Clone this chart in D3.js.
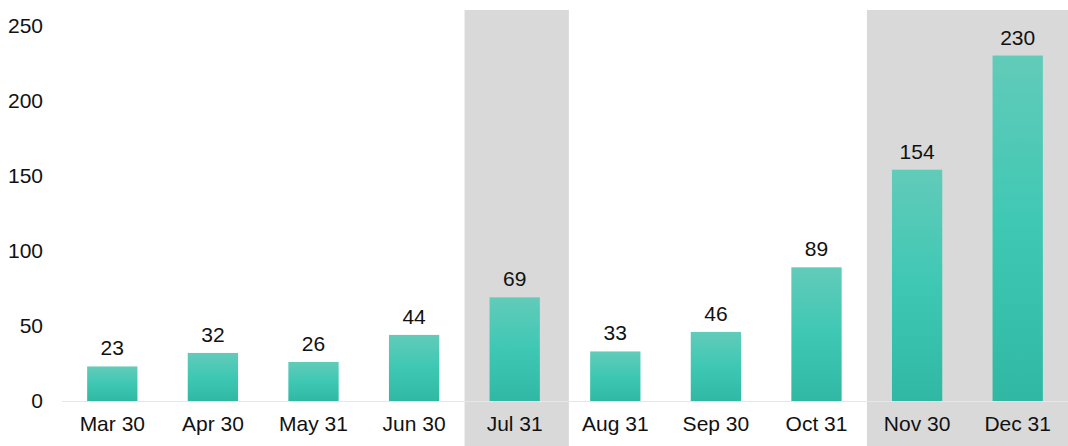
<!DOCTYPE html>
<html>
<head>
<meta charset="utf-8">
<script src="https://cdn.jsdelivr.net/npm/d3@7"></script>
<style>
  body { margin: 0; background: #fff; }
  text { font-family: "Liberation Sans", Arial, sans-serif; fill: #111; }
</style>
</head>
<body>
<div class="chart"></div>
<script>
// monthly values
var months = ['Mar 30', 'Apr 30', 'May 31', 'Jun 30', 'Jul 31', 'Aug 31', 'Sep 30', 'Oct 31', 'Nov 30', 'Dec 31']
var values = [23, 32, 26, 44, 69, 33, 46, 89, 154, 230]
var highlighted = [['Jul 31', 'Jul 31'], ['Nov 30', 'Dec 31']]
var yTicks = [0, 50, 100, 150, 200, 250]

var svgWidth = 1068
var svgHeight = 446
var fontSize = '21px'

var svg = d3.select('.chart')
    .append('svg')
    .attr('width', svgWidth)
    .attr('height', svgHeight)

var x = d3.scaleBand()
    .domain(months)
    .range([62, 1068])
    .paddingInner(0.5)
    .paddingOuter(0.25)

var y = d3.scaleLinear()
    .domain([0, 250])
    .range([401, 25.5])

var defs = svg.append('defs')
var grad = defs.append('linearGradient')
    .attr('id', 'barGrad')
    .attr('x1', 0).attr('y1', 0).attr('x2', 0).attr('y2', 1)
grad.append('stop').attr('offset', '0%').attr('stop-color', '#62cbb9')
grad.append('stop').attr('offset', '50%').attr('stop-color', '#3ec8b4')
grad.append('stop').attr('offset', '100%').attr('stop-color', '#30b8a4')

// shaded bands
svg.selectAll('.shade')
    .data(highlighted)
    .enter().append('rect')
    .attr('class', 'shade')
    .attr('x', d => x(d[0]) - 25)
    .attr('y', 10)
    .attr('width', d => Math.min(svgWidth, x(d[1]) + x.bandwidth() + 29) - (x(d[0]) - 25))
    .attr('height', svgHeight - 10)
    .attr('fill', '#d9d9d9')

// baseline
svg.append('line')
    .attr('x1', 62).attr('x2', svgWidth)
    .attr('y1', y(0) + 0.5).attr('y2', y(0) + 0.5)
    .attr('stroke', '#e6e6e6')
    .attr('stroke-width', 1)

// y axis labels
svg.append('g')
    .attr('transform', 'translate(43, 0)')
    .call(d3.axisLeft(y).tickValues(yTicks).tickSize(0).tickPadding(0))
    .call(g => g.select('.domain').remove())
    .selectAll('text')
    .attr('font-size', fontSize)
    .attr('font-family', '"Liberation Sans", Arial, sans-serif')
    .attr('fill', '#111')

// x axis labels
svg.append('g')
    .attr('transform', `translate(0, ${y(0)})`)
    .call(d3.axisBottom(x).tickSize(0).tickPadding(15))
    .call(g => g.select('.domain').remove())
    .selectAll('text')
    .attr('font-size', fontSize)
    .attr('font-family', '"Liberation Sans", Arial, sans-serif')
    .attr('fill', '#111')

// bars
svg.selectAll('.bar')
    .data(values)
    .enter().append('rect')
    .attr('class', 'bar')
    .attr('x', (d, i) => x(months[i]))
    .attr('y', d => y(d))
    .attr('width', x.bandwidth())
    .attr('height', d => y(0) - y(d))
    .attr('fill', 'url(#barGrad)')

// value labels
svg.selectAll('.val')
    .data(values)
    .enter().append('text')
    .attr('class', 'val')
    .attr('x', (d, i) => x(months[i]) + x.bandwidth() / 2)
    .attr('y', d => y(d) - 11)
    .attr('text-anchor', 'middle')
    .attr('font-size', fontSize)
    .text(d => d)
</script>
</body>
</html>
